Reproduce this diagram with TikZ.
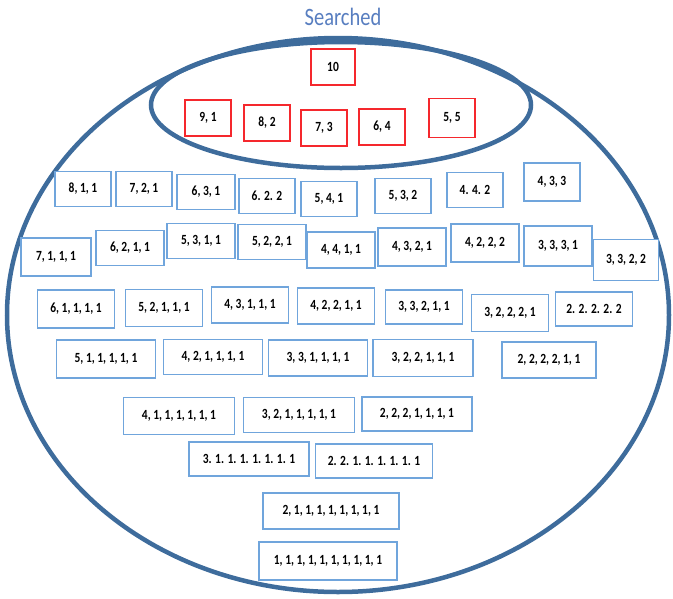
\documentclass[tikz,border=0pt]{standalone}
\usepackage{fontspec}
\setmainfont{Carlito}
\newfontfamily\numfont[FakeStretch=0.82]{Carlito}
\usetikzlibrary{positioning}
\definecolor{ringblue}{RGB}{62,108,156}
\definecolor{boxblue}{RGB}{112,165,220}
\definecolor{hitred}{RGB}{245,40,45}
\definecolor{titleblue}{RGB}{88,126,192}

\begin{document}
\begin{tikzpicture}[
    x=1pt, y=-1pt,
    every node/.style={font=\numfont\fontsize{14}{15}\selectfont\bfseries},
    ring/.style={draw=ringblue, line width=4.5pt},
    part/.style={draw=boxblue, line width=1.6pt, fill=white, inner sep=0pt, minimum height=35pt},
    hit/.style={draw=hitred, line width=1.3pt, fill=white, inner sep=0pt, minimum width=46pt, minimum height=36pt},
    w3/.style={part, minimum width=56pt},
    w4/.style={part, minimum width=68pt},
    w5/.style={part, minimum width=77pt},
    w6/.style={part, minimum width=99pt},
    w7/.style={part, minimum width=111pt},
    w8/.style={part, minimum width=118pt},
    w9/.style={part, minimum width=136pt}
  ]
    \useasboundingbox (0,0) rectangle (673,598);

    % the two sets
    \draw[ring] (338,315) ellipse [x radius=331, y radius=277];
    \draw[ring] (341,105) ellipse [x radius=190, y radius=63];
    \node[font=\numfont\fontsize{25}{27}\selectfont, text=titleblue] (title) at (343,17) {Searched};

    % already searched
    \node[hit, minimum width=44pt] (q10) at (333,67) {10};
    \node[hit] (q91) at (208,118) {9, 1};
    \node[hit] (q82) at (267,123) {8, 2};
    \node[hit] (q73) at (324,128) {7, 3};
    \node[hit] (q64) at (382,127) {6, 4};
    \node[hit, minimum height=39pt] (q55) at (452,118) {5, 5};

    % three parts
    \node[w3] (p811) at (83,189) {8, 1, 1};
    \node[w3] (p721) at (144,189) {7, 2, 1};
    \node[w3, minimum width=58pt] (p631) at (206,192) {6, 3, 1};
    \node[w3] (p622) at (267,196) {6. 2. 2};
    \node[w3] (p541) at (329,199) {5, 4, 1};
    \node[w3] (p532) at (403,196) {5, 3, 2};
    \node[w3] (p442) at (475,190) {4. 4. 2};
    \node[w3, minimum height=38pt] (p433) at (552,182) {4, 3, 3};

    % four parts
    \node[w4, minimum width=70pt, minimum height=38pt] (p7111) at (56,257) {7, 1, 1, 1};
    \node[w4] (p6211) at (130,248) {6, 2, 1, 1};
    \node[w4] (p5311) at (201,241) {5, 3, 1, 1};
    \node[w4] (p5221) at (272,242) {5, 2, 2, 1};
    \node[w4, minimum height=36pt] (p4411) at (341,250) {4, 4, 1, 1};
    \node[w4, minimum height=38pt] (p4321) at (412,247) {4, 3, 2, 1};
    \node[w4, minimum height=38pt] (p4222) at (485,243) {4, 2, 2, 2};
    \node[w4, minimum height=40pt] (p3331) at (558,246) {3, 3, 3, 1};
    \node[w4, minimum width=65pt, minimum height=41pt] (p3322) at (626,260) {3, 3, 2, 2};

    % five parts
    \node[w5, minimum height=38pt] (p61111) at (76,309) {6, 1, 1, 1, 1};
    \node[w5, minimum height=37pt] (p52111) at (164,308) {5, 2, 1, 1, 1};
    \node[w5, minimum height=36pt] (p43111) at (250,305) {4, 3, 1, 1, 1};
    \node[w5, minimum height=36pt] (p42211) at (336,306) {4, 2, 2, 1, 1};
    \node[w5, minimum height=34pt] (p33211) at (424,307) {3, 3, 2, 1, 1};
    \node[w5, minimum height=37pt] (p32221) at (510,313) {3, 2, 2, 2, 1};
    \node[w5, minimum height=34pt] (p22222) at (594,309) {2. 2. 2. 2. 2};

    % six parts
    \node[w6, minimum height=38pt] (p511111) at (106,359) {5, 1, 1, 1, 1, 1};
    \node[w6] (p421111) at (213,357) {4, 2, 1, 1, 1, 1};
    \node[w6, minimum height=36pt] (p331111) at (318,358) {3, 3, 1, 1, 1, 1};
    \node[w6, minimum width=100pt, minimum height=37pt] (p322111) at (423,358) {3, 2, 2, 1, 1, 1};
    \node[w6, minimum width=94pt, minimum height=36pt] (p222211) at (549,360) {2, 2, 2, 2, 1, 1};

    % seven parts and more
    \node[w7, minimum height=37pt] (p4111111) at (179,416) {4, 1, 1, 1, 1, 1, 1};
    \node[w7] (p3211111) at (299,415) {3, 2, 1, 1, 1, 1, 1};
    \node[w7, minimum width=110pt, minimum height=34pt] (p2221111) at (417,414) {2, 2, 2, 1, 1, 1, 1};
    \node[w8, minimum width=120pt, minimum height=34pt] (p31111111) at (249,459) {3. 1. 1. 1. 1. 1. 1. 1};
    \node[w8, minimum width=117pt, minimum height=34pt] (p22111111) at (374,461) {2. 2. 1. 1. 1. 1. 1. 1};
    \node[w9, minimum height=36pt] (p211111111) at (331,511) {2, 1, 1, 1, 1, 1, 1, 1, 1};
    \node[w9, minimum width=138pt, minimum height=38pt] (p1111111111) at (328,561) {1, 1, 1, 1, 1, 1, 1, 1, 1, 1};
\end{tikzpicture}
\end{document}
